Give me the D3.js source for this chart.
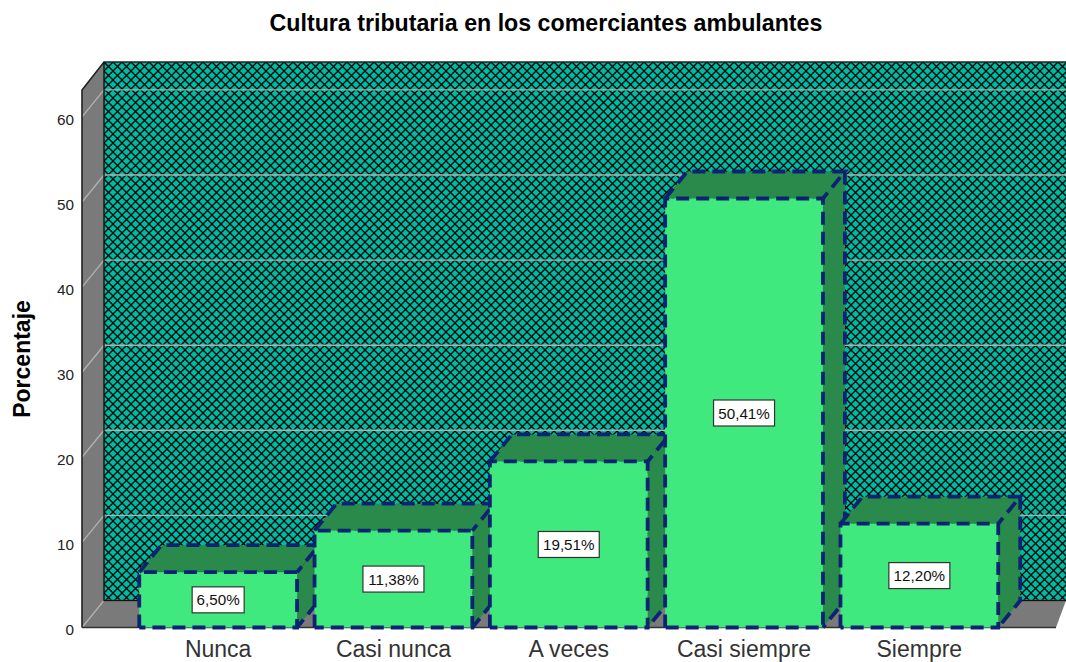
<!DOCTYPE html>
<html><head><meta charset="utf-8">
<script src="https://cdn.jsdelivr.net/npm/d3@7"></script>
<style>html,body{margin:0;padding:0;background:#fff}svg{display:block}text{font-family:"Liberation Sans",Arial,sans-serif}</style>
</head><body><svg id="c" width="1066" height="662"></svg>
<script>
const chartTitle = "Cultura tributaria en los comerciantes ambulantes";
const yTitle = "Porcentaje";
const categories = ["Nunca","Casi nunca","A veces","Casi siempre","Siempre"];
const values = [6.50,11.38,19.51,50.41,12.20];
const valueLabels = ["6,50%","11,38%","19,51%","50,41%","12,20%"];
const yTicks = [0,10,20,30,40,50,60];

const W=1066,H=662,dx=22,dy=-27;
const axisLeft=82, axisRight=1056, y0=627.5;
const svg=d3.select("#c").attr("viewBox",`0 0 ${W} ${H}`);
const x=d3.scaleBand().domain(categories).range([130.5,1007]).paddingInner(0.1).paddingOuter(0.05);
const y=d3.scaleLinear().domain([0,60]).range([y0,y0-510.6]);

const P=9;
const defs=svg.append("defs");
const p=defs.append("pattern").attr("id","hatch").attr("patternUnits","userSpaceOnUse").attr("width",P).attr("height",P).attr("x",104).attr("y",62);
p.append("rect").attr("width",P).attr("height",P).attr("fill","#00bba4");
p.append("path").attr("d",`M-1,-1L${P+1},${P+1}M-1,${P+1}L${P+1},-1`).attr("stroke","#000").attr("stroke-width",1.3).attr("fill","none");

const line=d3.line();
svg.append("rect").attr("x",axisLeft+dx).attr("y",62).attr("width",W-axisLeft-dx).attr("height",y0+dy-62).attr("fill","url(#hatch)");
svg.append("path").attr("d",line([[axisLeft,90],[axisLeft+dx,62],[axisLeft+dx,y0+dy],[axisLeft,y0]])+"Z").attr("fill","#7a7a7a");
svg.append("path").attr("d",line([[axisLeft,y0],[axisLeft+dx,y0+dy],[W,y0+dy],[axisRight,y0]])+"Z").attr("fill","#7a7a7a");
const grid=svg.append("g").attr("fill","none").attr("stroke","#b0b0b0").attr("stroke-width",1.4);
yTicks.forEach(t=>{
  grid.append("path").attr("d",line([[axisLeft,y(t)],[axisLeft+dx,y(t)+dy],[W,y(t)+dy]]));
});
svg.append("path").attr("d",line([[axisLeft,y0],[axisLeft,90],[axisLeft+dx,62],[W,62]])).attr("fill","none").attr("stroke","#222").attr("stroke-width",1.6);
svg.append("path").attr("d",line([[axisLeft+dx,62],[axisLeft+dx,y0+dy],[W,y0+dy]])).attr("fill","none").attr("stroke","#111").attr("stroke-width",1.4);
svg.append("path").attr("d",line([[axisLeft,y0],[axisRight,y0]])).attr("fill","none").attr("stroke","#333").attr("stroke-width",1.5);

const dash={stroke:"#0b2472","stroke-width":3.8,"stroke-dasharray":"13 7",fill:"none"};
const bars=svg.append("g").selectAll("g").data(categories).join("g");
bars.each(function(c,i){
  const g=d3.select(this), l=x(c), r=l+x.bandwidth(), t=y(values[i]), b=y0;
  const top=[[l,t],[l+dx,t+dy],[r+dx,t+dy],[r,t]];
  const side=[[r,t],[r+dx,t+dy],[r+dx,b+dy],[r,b]];
  g.append("path").attr("d",line(side)+"Z").attr("fill","#2a8a4c");
  g.append("path").attr("d",line(top)+"Z").attr("fill","#2a8a4c");
  g.append("rect").attr("x",l).attr("y",t).attr("width",r-l).attr("height",b-t).attr("fill","#40e97e");
  const s=g.append("path").attr("d",line([[l,t],[l+dx,t+dy],[r+dx,t+dy],[r,t]])+line([[r+dx,t+dy],[r+dx,b+dy],[r,b]]));
  const f=g.append("path").attr("d",line([[l,b],[l,t],[r,t],[r,b],[l,b]]));
  [s,f].forEach(e=>Object.entries(dash).forEach(([k,v])=>e.attr(k,v)));
});
const labels=svg.append("g").selectAll("g").data(categories).join("g");
labels.each(function(c,i){
  const g=d3.select(this), cx=x(c)+x.bandwidth()/2, cy=(y(values[i])+y0)/2;
  const w=i===0?52:61;
  g.append("rect").attr("x",cx-w/2).attr("y",cy-13).attr("width",w).attr("height",26).attr("fill","#fff").attr("stroke","#333").attr("stroke-width",1.2);
  g.append("text").attr("x",cx).attr("y",cy+5.5).attr("text-anchor","middle").attr("font-size",15.2).attr("fill","#111").text(valueLabels[i]);
});
const yAxis=d3.axisLeft(y).tickValues(yTicks).tickSize(0).tickPadding(8).tickFormat(d3.format("d"));
const ya=svg.append("g").attr("transform",`translate(${axisLeft},2.5)`).call(yAxis);
ya.select(".domain").remove();
ya.selectAll("text").attr("font-size",15.3).attr("fill","#222").style("font-family",'"Liberation Sans",Arial,sans-serif');
const xAxis=d3.axisBottom(x).tickSize(0).tickPadding(13);
const xa=svg.append("g").attr("transform",`translate(0,${y0})`).call(xAxis);
xa.select(".domain").remove();
xa.selectAll("text").attr("font-size",23).attr("fill","#333").style("font-family",'"Liberation Sans",Arial,sans-serif');
svg.append("text").attr("x",546).attr("y",31).attr("text-anchor","middle").attr("font-size",23.2).attr("font-weight","bold").attr("fill","#000").text(chartTitle);
svg.append("text").attr("transform","translate(30,359) rotate(-90)").attr("text-anchor","middle").attr("font-size",23).attr("font-weight","bold").attr("fill","#000").text(yTitle);
</script></body></html>
